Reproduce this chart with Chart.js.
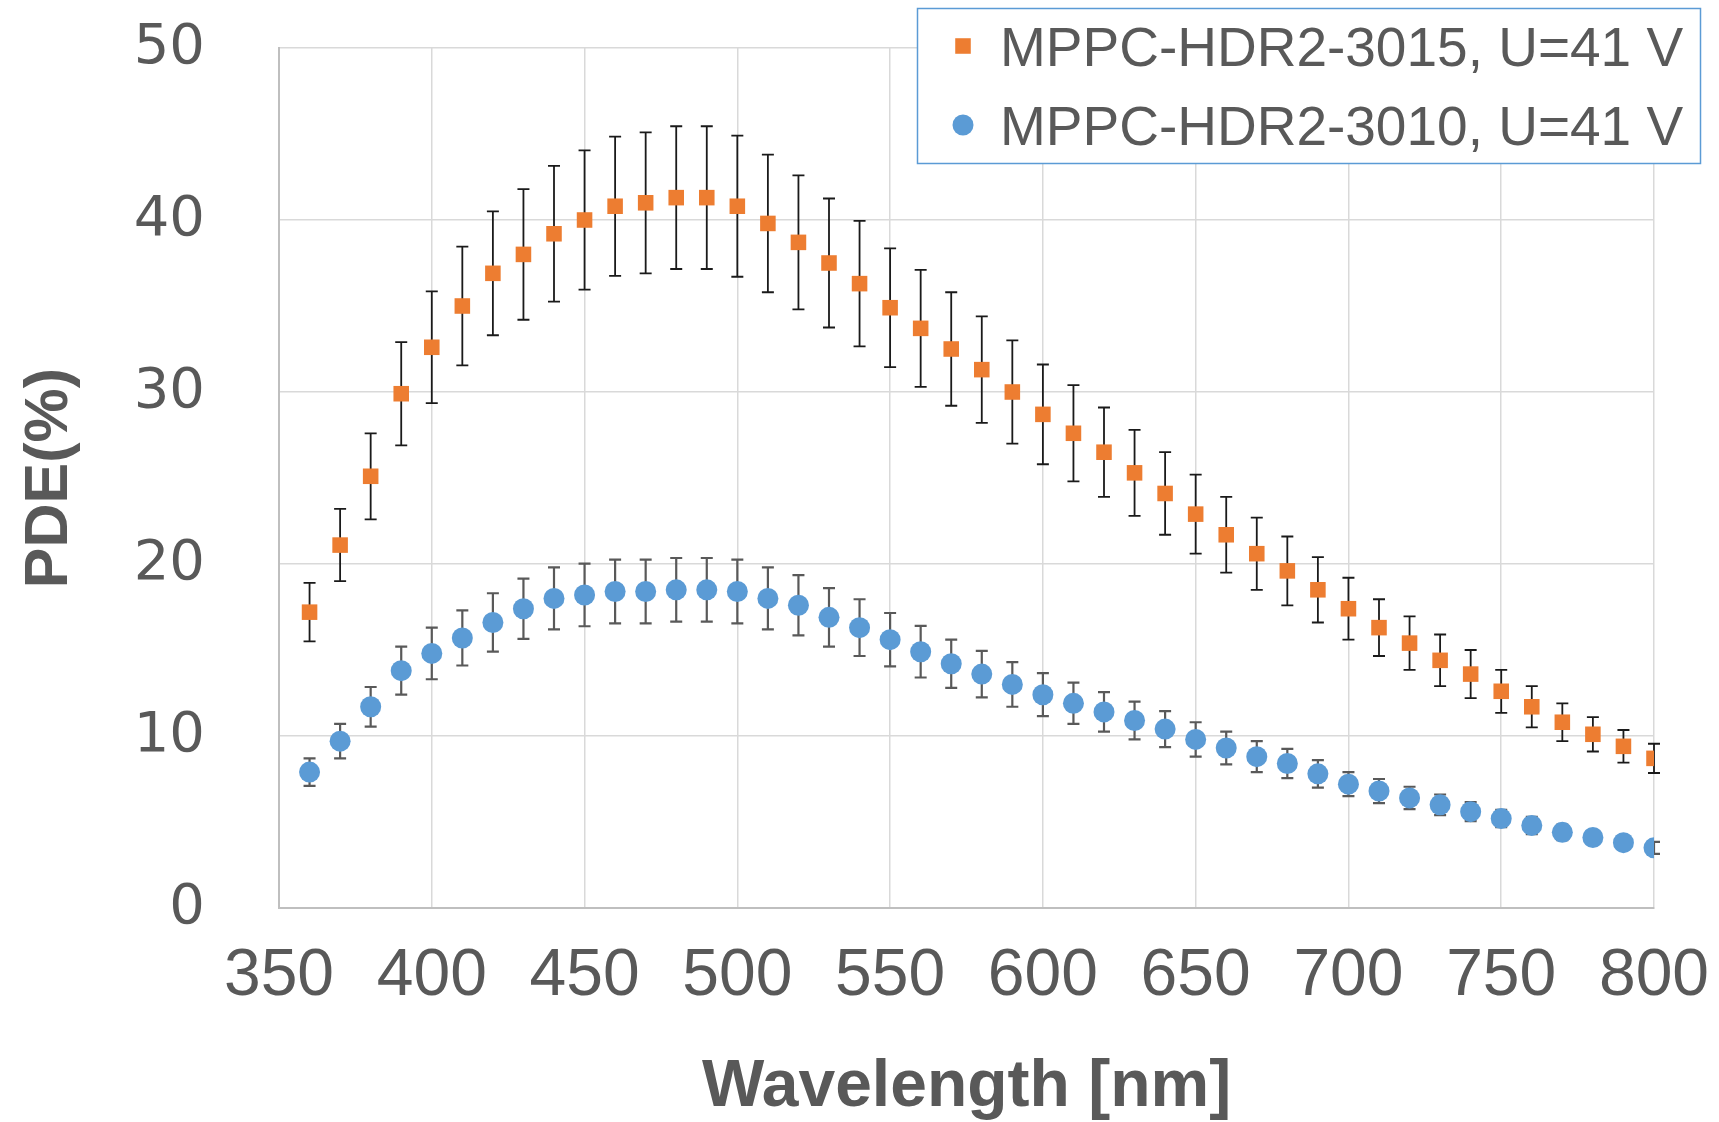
<!DOCTYPE html>
<html>
<head>
<meta charset="utf-8">
<script src="https://cdn.jsdelivr.net/npm/chart.js@4/dist/chart.umd.min.js"></script>
<style>
  html, body { margin: 0; padding: 0; background: #ffffff; }
  #wrap { width: 1719px; height: 1122px; position: relative; }
</style>
</head>
<body>
<div id="wrap"><canvas id="pde"></canvas></div>
<script>
// Wavelength grid (nm)
const wavelengths = [360, 370, 380, 390, 400, 410, 420, 430, 440, 450,
                     460, 470, 480, 490, 500, 510, 520, 530, 540, 550,
                     560, 570, 580, 590, 600, 610, 620, 630, 640, 650,
                     660, 670, 680, 690, 700, 710, 720, 730, 740, 750,
                     760, 770, 780, 790, 800];

// Photon detection efficiency (%), MPPC-HDR2-3015 at 41 V
const pde3015 = [17.2, 21.1, 25.1, 29.9, 32.6, 35.0, 36.9, 38.0, 39.2, 40.0,
                 40.8, 41.0, 41.3, 41.3, 40.8, 39.8, 38.7, 37.5, 36.3, 34.9,
                 33.7, 32.5, 31.3, 30.0, 28.7, 27.6, 26.5, 25.3, 24.1, 22.9,
                 21.7, 20.6, 19.6, 18.5, 17.4, 16.3, 15.4, 14.4, 13.6, 12.6,
                 11.7, 10.8, 10.1, 9.4, 8.7];
const err3015 = [1.7, 2.1, 2.5, 3.0, 3.25, 3.45, 3.6, 3.8, 3.95, 4.05,
                 4.05, 4.1, 4.15, 4.15, 4.1, 4.0, 3.9, 3.75, 3.65, 3.45,
                 3.4, 3.3, 3.1, 3.0, 2.9, 2.8, 2.6, 2.5, 2.4, 2.3,
                 2.2, 2.1, 2.0, 1.9, 1.8, 1.65, 1.55, 1.5, 1.4, 1.25,
                 1.2, 1.1, 1.0, 0.95, 0.85];

// Photon detection efficiency (%), MPPC-HDR2-3010 at 41 V
const pde3010 = [7.9, 9.7, 11.7, 13.8, 14.8, 15.7, 16.6, 17.4, 18.0, 18.2,
                 18.4, 18.4, 18.5, 18.5, 18.4, 18.0, 17.6, 16.9, 16.3, 15.6,
                 14.9, 14.2, 13.6, 13.0, 12.4, 11.9, 11.4, 10.9, 10.4, 9.8,
                 9.3, 8.8, 8.4, 7.8, 7.2, 6.8, 6.4, 6.0, 5.6, 5.2,
                 4.8, 4.4, 4.1, 3.8, 3.5];
const err3010 = [0.8, 1.0, 1.15, 1.4, 1.5, 1.6, 1.7, 1.75, 1.8, 1.82,
                 1.85, 1.85, 1.85, 1.85, 1.85, 1.8, 1.75, 1.7, 1.65, 1.55,
                 1.5, 1.4, 1.35, 1.3, 1.25, 1.2, 1.15, 1.1, 1.05, 1.0,
                 0.95, 0.9, 0.85, 0.8, 0.7, 0.7, 0.65, 0.6, 0.55, 0.5,
                 0.5, 0.45, 0.4, 0.4, 0.35];

const seriesNames = ['MPPC-HDR2-3015, U=41 V', 'MPPC-HDR2-3010, U=41 V'];
const xTitle = 'Wavelength [nm]';
const yTitle = 'PDE(%)';

const toPoints = (ys) => wavelengths.map((w, i) => ({ x: w, y: ys[i] }));

const TEXT = '#595959';

// Vertical error bars with caps, drawn under the markers
const errorBars = {
  id: 'errorBars',
  beforeDatasetsDraw(chart) {
    const { ctx, scales: { x, y } } = chart;
    chart.data.datasets.forEach((ds) => {
      if (!ds.errors) return;
      ctx.save();
      ctx.strokeStyle = ds.errorColor;
      ctx.lineWidth = ds.errorWidth;
      ds.data.forEach((p, i) => {
        const e = ds.errors[i];
        const px = x.getPixelForValue(p.x);
        const yTop = y.getPixelForValue(p.y + e);
        const yBot = y.getPixelForValue(p.y - e);
        const cap = 6;
        ctx.beginPath();
        ctx.moveTo(px, yTop); ctx.lineTo(px, yBot);
        ctx.moveTo(px - cap, yTop); ctx.lineTo(px + cap, yTop);
        ctx.moveTo(px - cap, yBot); ctx.lineTo(px + cap, yBot);
        ctx.stroke();
      });
      ctx.restore();
    });
  }
};

// Boxed legend floating over the top-right corner
const boxLegend = {
  id: 'boxLegend',
  afterDraw(chart) {
    const { ctx } = chart;
    const box = { x: 917.5, y: 8.5, w: 783, h: 155 };
    ctx.save();
    ctx.fillStyle = '#ffffff';
    ctx.fillRect(box.x, box.y, box.w, box.h);
    ctx.strokeStyle = '#5B9BD5';
    ctx.lineWidth = 1.5;
    ctx.strokeRect(box.x, box.y, box.w, box.h);
    const rows = [46, 125];
    chart.data.datasets.forEach((ds, i) => {
      ctx.fillStyle = ds.backgroundColor;
      ctx.strokeStyle = ds.backgroundColor;
      Chart.helpers.drawPoint(ctx, {
        pointStyle: ds.pointStyle, radius: ds.pointRadius, rotation: 0, borderWidth: 0
      }, 963, rows[i]);
      ctx.fillStyle = TEXT;
      ctx.font = '55px "Liberation Sans", Arial, sans-serif';
      ctx.textAlign = 'left';
      ctx.textBaseline = 'alphabetic';
      ctx.fillText(ds.label, 1000, rows[i] + 20);
    });
    ctx.restore();
  }
};

// Keep the plot frame fixed: label overhang must not shrink the plot area
function clearPadding(scale) {
  scale.paddingTop = 0;
  scale.paddingBottom = 0;
  scale.paddingLeft = 0;
  scale.paddingRight = 0;
}

new Chart(document.getElementById('pde'), {
  type: 'scatter',
  data: {
    datasets: [
      {
        label: seriesNames[0],
        data: toPoints(pde3015),
        errors: err3015,
        errorColor: '#1a1a1a',
        errorWidth: 1.8,
        pointStyle: 'rect',
        pointRadius: 11,
        pointHoverRadius: 11,
        backgroundColor: '#ED7D31',
        borderColor: '#ED7D31',
        borderWidth: 0
      },
      {
        label: seriesNames[1],
        data: toPoints(pde3010),
        errors: err3010,
        errorColor: '#595959',
        errorWidth: 2.2,
        pointStyle: 'circle',
        pointRadius: 10.5,
        pointHoverRadius: 10.5,
        backgroundColor: '#5B9BD5',
        borderColor: '#5B9BD5',
        borderWidth: 0
      }
    ]
  },
  options: {
    responsive: true,
    maintainAspectRatio: false,
    animation: false,
    events: [],
    layout: { padding: { left: 0, right: 65, top: 48, bottom: 0 } },
    plugins: {
      legend: { display: false },
      tooltip: { enabled: false }
    },
    scales: {
      x: {
        type: 'linear',
        min: 350,
        max: 800,
        ticks: {
          stepSize: 50,
          padding: 29,
          color: TEXT,
          font: { family: '"Liberation Sans", Arial, sans-serif', size: 66 }
        },
        grid: { color: '#d9d9d9', lineWidth: 1.5, drawTicks: false },
        border: { color: '#bfbfbf', width: 2 },
        title: {
          display: true,
          text: xTitle,
          color: TEXT,
          padding: { top: 0, bottom: 0 },
          font: { family: '"Liberation Sans", Arial, sans-serif', size: 66, weight: 'bold', lineHeight: 1.05 }
        },
        afterFit(scale) { scale.height = 214; clearPadding(scale); }
      },
      y: {
        min: 0,
        max: 50,
        ticks: {
          stepSize: 10,
          padding: 74,
          color: TEXT,
          font: { family: '"DejaVu Sans", sans-serif', size: 56 }
        },
        grid: { color: '#d9d9d9', lineWidth: 1.5, drawTicks: false },
        border: { color: '#bfbfbf', width: 2 },
        title: {
          display: true,
          text: yTitle,
          color: TEXT,
          padding: { top: 14, bottom: 0 },
          font: { family: '"Liberation Sans", Arial, sans-serif', size: 61, weight: 'bold' }
        },
        afterFit(scale) { scale.width = 279; clearPadding(scale); }
      }
    }
  },
  plugins: [errorBars, boxLegend]
});
</script>
</body>
</html>
